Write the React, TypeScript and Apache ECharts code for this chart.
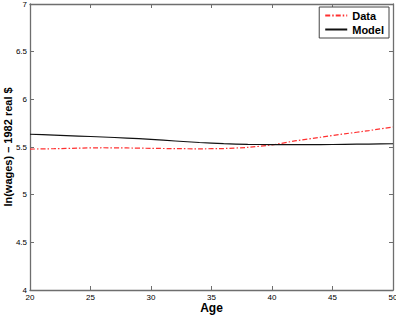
import React, { useEffect, useRef } from "react";
import * as echarts from "echarts";

const ages = [20, 22, 24, 26, 28, 30, 32, 34, 36, 38, 40, 42, 44, 46, 48, 50];
const dataSeries = [5.478, 5.482, 5.488, 5.492, 5.49, 5.486, 5.483, 5.481, 5.484, 5.496, 5.522, 5.566, 5.602, 5.638, 5.672, 5.71];
const modelSeries = [5.634, 5.625, 5.615, 5.605, 5.594, 5.58, 5.563, 5.547, 5.535, 5.528, 5.525, 5.524, 5.525, 5.528, 5.531, 5.534];
const seriesNames = ["Data", "Model"];

const FONT = "'Liberation Sans', Arial, Helvetica, sans-serif";
const AX = "#6e6e6e";

export default function App() {
  const ref = useRef<HTMLDivElement>(null);
  useEffect(() => {
    document.body.style.margin = "0";
    if (!ref.current) return;
    const chart = echarts.init(ref.current, undefined, { renderer: "svg" });
    const axLine = { show: true, lineStyle: { color: AX, width: 1.3 } };
    const tick = { show: true, inside: true, length: 4, lineStyle: { color: AX, width: 1 } };
    chart.setOption({
      animation: false,
      backgroundColor: "#fff",
      textStyle: { fontFamily: FONT },
      grid: { left: 30, right: 3, top: 4, bottom: 26, containLabel: false, outerBoundsMode: "none" },
      legend: {
        orient: "vertical",
        right: 7,
        top: 7,
        data: seriesNames,
        itemWidth: 22,
        itemHeight: 10,
        itemGap: 3,
        padding: [3, 5, 3, 5],
        borderColor: "#444",
        borderWidth: 1,
        backgroundColor: "#fff",
        itemStyle: { opacity: 0 },
        textStyle: { fontFamily: FONT, fontWeight: "bold", fontSize: 11, color: "#000" },
      },
      xAxis: [
        {
          type: "value",
          min: 20,
          max: 50,
          interval: 5,
          axisLine: axLine,
          axisTick: tick,
          splitLine: { show: false },
          axisLabel: { fontSize: 8, color: "#000", margin: 3, fontFamily: FONT },
          name: "Age",
          nameLocation: "middle",
          nameGap: 12,
          nameMoveOverlap: false,
          nameTextStyle: { fontSize: 12, fontWeight: "bold", color: "#000", fontFamily: FONT },
        },
        {
          type: "value",
          position: "top",
          min: 20,
          max: 50,
          interval: 5,
          axisLine: axLine,
          axisTick: tick,
          splitLine: { show: false },
          axisLabel: { show: false },
        },
      ],
      yAxis: [
        {
          type: "value",
          min: 4,
          max: 7,
          interval: 0.5,
          axisLine: axLine,
          axisTick: tick,
          splitLine: { show: false },
          axisLabel: { fontSize: 8, color: "#000", margin: 3, fontFamily: FONT },
          name: "ln(wages) – 1982 real $",
          nameLocation: "middle",
          nameGap: 17,
          nameMoveOverlap: false,
          nameTextStyle: { fontSize: 11, fontWeight: "bold", color: "#000", fontFamily: FONT },
        },
        {
          type: "value",
          position: "right",
          min: 4,
          max: 7,
          interval: 0.5,
          axisLine: axLine,
          axisTick: tick,
          splitLine: { show: false },
          axisLabel: { show: false },
        },
      ],
      series: [
        {
          name: seriesNames[0],
          type: "line",
          data: ages.map((a, i) => [a, dataSeries[i]]),
          showSymbol: false,
          symbol: "none",
          smooth: 0.2,
          itemStyle: { color: "#ff3030" },
          lineStyle: { color: "#ff3030", width: 1.2, type: [5, 2, 1.5, 2] },
        },
        {
          name: seriesNames[1],
          type: "line",
          data: ages.map((a, i) => [a, modelSeries[i]]),
          showSymbol: false,
          symbol: "none",
          smooth: 0.2,
          itemStyle: { color: "#111" },
          lineStyle: { color: "#111", width: 1.2 },
        },
      ],
    });
    return () => chart.dispose();
  }, []);
  return <div ref={ref} style={{ width: 396, height: 316 }} />;
}
